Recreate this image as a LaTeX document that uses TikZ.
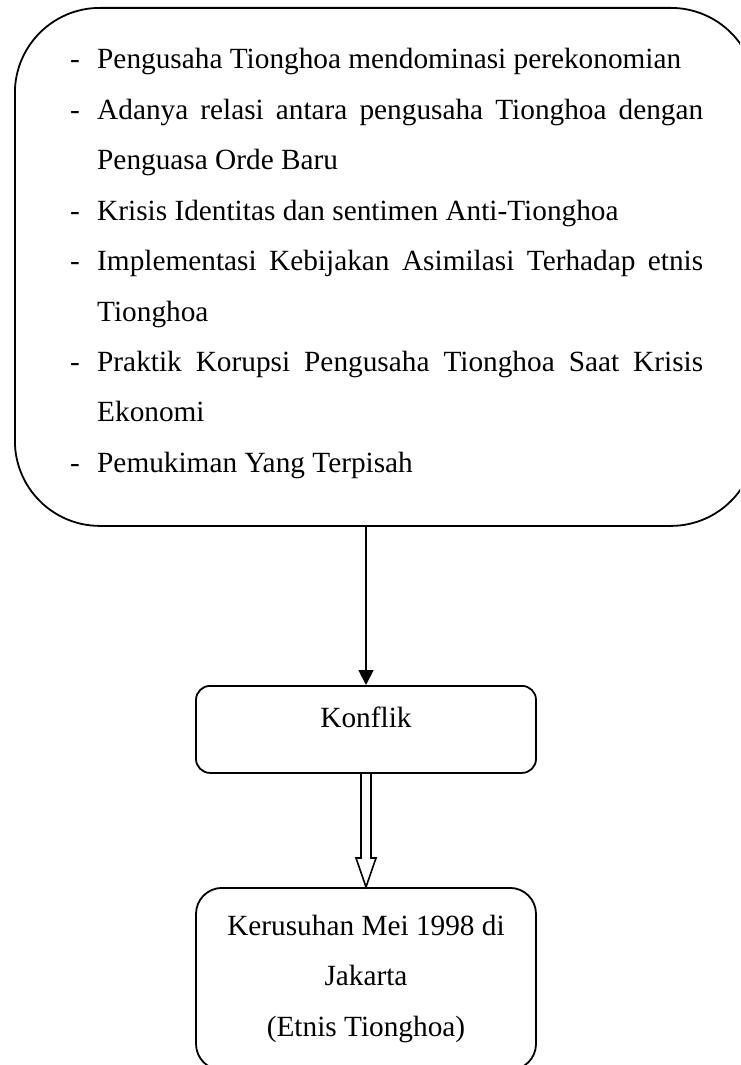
\documentclass[tikz,border=0pt]{standalone}
\usepackage{fontspec}
\setmainfont{Liberation Serif}
\usetikzlibrary{arrows.meta,calc}
\begin{document}
\begin{tikzpicture}[x=1pt,y=-1pt,
  txt/.style={inner sep=0pt,anchor=base west,font=\fontsize{29.3}{50.4}\selectfont},
  dashmark/.style={inner sep=0pt,anchor=base west,font=\fontsize{29.3}{50.4}\selectfont},
  frame/.style={draw,line width=1.8pt,rounded corners=85pt,inner sep=0pt},
  boxr/.style={draw,line width=1.8pt,inner sep=0pt,font=\fontsize{29.3}{50.4}\selectfont},
  arr/.style={line width=1.8pt,-{Triangle[width=15pt,length=15pt]}},
  hollow/.style={line width=1.6pt,line join=miter}]
\useasboundingbox (0,0) rectangle (740,1065);
\clip (0,0) rectangle (740,1065);
% big frame
\node[frame,minimum width=741pt,minimum height=518pt,anchor=north west] (frame) at (14,7) {};
% list text
\def\W{606pt}
\node[dashmark] (d1) at (70,69) {-};
\node[txt] (t1) at (97,69) {Pengusaha Tionghoa mendominasi perekonomian};
\node[dashmark] (d2) at (70,119.4) {-};
\node[txt] (t2) at (97,119.4) {\makebox[\W][s]{Adanya relasi antara pengusaha Tionghoa dengan}};
\node[txt] (t3) at (97,169.8) {Penguasa Orde Baru};
\node[dashmark] (d3) at (70,220.2) {-};
\node[txt] (t4) at (97,220.2) {Krisis Identitas dan sentimen Anti-Tionghoa};
\node[dashmark] (d4) at (70,270.6) {-};
\node[txt] (t5) at (97,270.6) {\makebox[\W][s]{Implementasi Kebijakan Asimilasi Terhadap etnis}};
\node[txt] (t6) at (97,321) {Tionghoa};
\node[dashmark] (d5) at (70,371.4) {-};
\node[txt] (t7) at (97,371.4) {\makebox[\W][s]{Praktik Korupsi Pengusaha Tionghoa Saat Krisis}};
\node[txt] (t8) at (97,421.8) {Ekonomi};
\node[dashmark] (d6) at (70,472.2) {-};
\node[txt] (t9) at (97,472.2) {Pemukiman Yang Terpisah};
% Konflik box
\node[boxr,rounded corners=14pt,minimum width=340pt,text height=20pt,text depth=23pt,inner ysep=22pt,anchor=north] (k) at (366,685) {Konflik};
% result box
\node[boxr,rounded corners=26pt,minimum width=340pt,minimum height=182pt,align=center,anchor=north] (r) at (366,887)
  {Kerusuhan Mei 1998 di\\Jakarta\\(Etnis Tionghoa)};
% arrows
\draw[arr] (frame.south -| k.north) -- (k.north);
\draw[hollow] ($(k.south)+(-5,0)$) -- ($(r.north)+(-5,-29)$) -- ($(r.north)+(-10,-29)$) -- (r.north)
  -- ($(r.north)+(10,-29)$) -- ($(r.north)+(5,-29)$) -- ($(k.south)+(5,0)$);
\end{tikzpicture}
\end{document}
